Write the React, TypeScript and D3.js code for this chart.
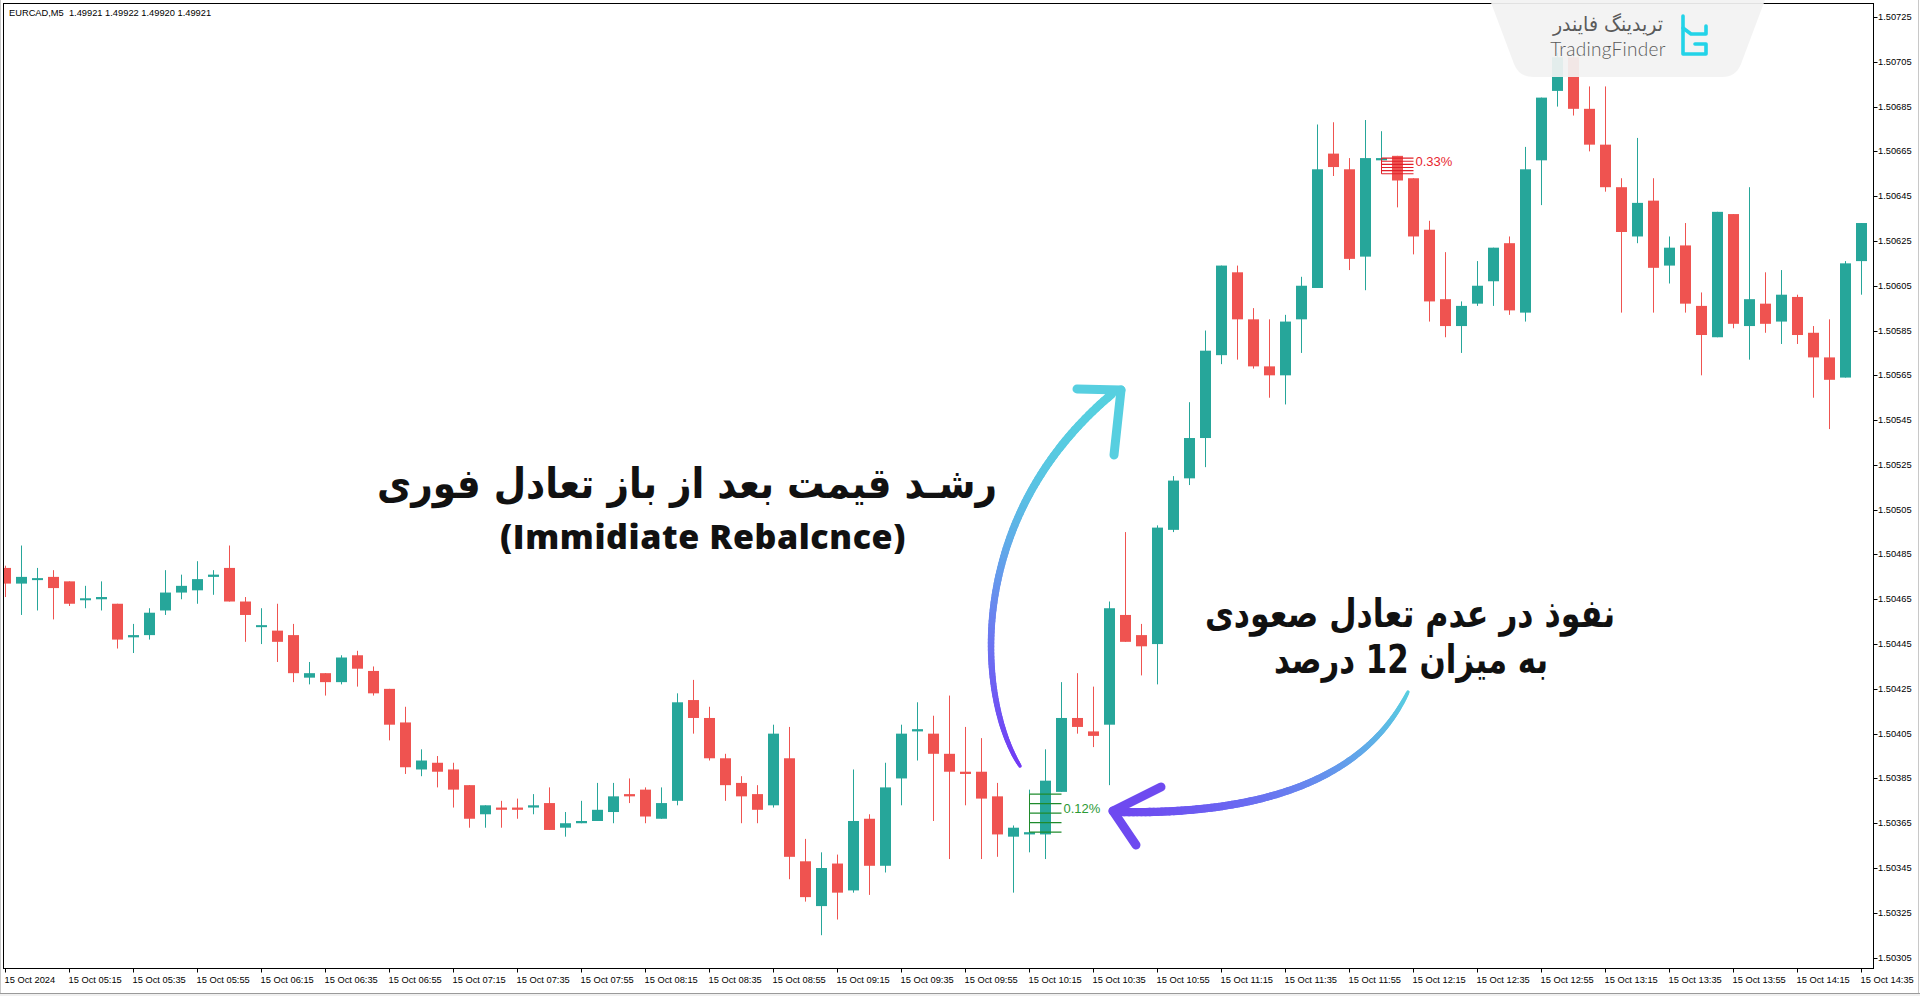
import React from "react";
import * as d3 from "d3";

// ---- data -----------------------------------------------------------------
const symbolHeader = "EURCAD,M5  1.49921 1.49922 1.49920 1.49921";

const timeLabels = [
  "15 Oct 2024", "15 Oct 05:15", "15 Oct 05:35", "15 Oct 05:55", "15 Oct 06:15",
  "15 Oct 06:35", "15 Oct 06:55", "15 Oct 07:15", "15 Oct 07:35", "15 Oct 07:55",
  "15 Oct 08:15", "15 Oct 08:35", "15 Oct 08:55", "15 Oct 09:15", "15 Oct 09:35",
  "15 Oct 09:55", "15 Oct 10:15", "15 Oct 10:35", "15 Oct 10:55", "15 Oct 11:15",
  "15 Oct 11:35", "15 Oct 11:55", "15 Oct 12:15", "15 Oct 12:35", "15 Oct 12:55",
  "15 Oct 13:15", "15 Oct 13:35", "15 Oct 13:55", "15 Oct 14:15", "15 Oct 14:35",
];

const priceTicks = [
  1.50305, 1.50325, 1.50345, 1.50365, 1.50385, 1.50405, 1.50425, 1.50445,
  1.50465, 1.50485, 1.50505, 1.50525, 1.50545, 1.50565, 1.50585, 1.50605,
  1.50625, 1.50645, 1.50665, 1.50685, 1.50705, 1.50725,
];

const opens = [
  1.50479, 1.50472, 1.50474, 1.50475, 1.50473, 1.50465, 1.50465, 1.50463, 1.50448, 1.50449,
  1.50460, 1.50468, 1.50469, 1.50475, 1.50479, 1.50464, 1.50453, 1.50451, 1.50449, 1.50430,
  1.50432, 1.50428, 1.50440, 1.50433, 1.50425, 1.50410, 1.50389, 1.50392, 1.50389, 1.50382,
  1.50369, 1.50372, 1.50372, 1.50372, 1.50374, 1.50363, 1.50365, 1.50366, 1.50370, 1.50378,
  1.50380, 1.50367, 1.50375, 1.50420, 1.50412, 1.50394, 1.50383, 1.50378, 1.50373, 1.50394,
  1.50348, 1.50328, 1.50347, 1.50335, 1.50367, 1.50346, 1.50385, 1.50406, 1.50405, 1.50396,
  1.50388, 1.50388, 1.50377, 1.50359, 1.50360, 1.50360, 1.50379, 1.50412, 1.50406, 1.50409,
  1.50458, 1.50449, 1.50445, 1.50496, 1.50519, 1.50537, 1.50574, 1.50611, 1.50590, 1.50569,
  1.50565, 1.50590, 1.50604, 1.50664, 1.50657, 1.50618, 1.50661, 1.50663, 1.50653, 1.50630,
  1.50599, 1.50587, 1.50597, 1.50607, 1.50624, 1.50593, 1.50661, 1.50692, 1.50707, 1.50684,
  1.50668, 1.50649, 1.50627, 1.50643, 1.50614, 1.50623, 1.50596, 1.50582, 1.50637, 1.50587,
  1.50597, 1.50589, 1.50600, 1.50584, 1.50573, 1.50564, 1.50616,
];

const highs = [
  1.50480, 1.50489, 1.50479, 1.50478, 1.50473, 1.50471, 1.50473, 1.50463, 1.50454, 1.50461,
  1.50478, 1.50476, 1.50482, 1.50478, 1.50489, 1.50466, 1.50461, 1.50463, 1.50454, 1.50437,
  1.50432, 1.50440, 1.50442, 1.50435, 1.50425, 1.50417, 1.50398, 1.50395, 1.50392, 1.50382,
  1.50373, 1.50375, 1.50376, 1.50378, 1.50381, 1.50370, 1.50375, 1.50383, 1.50383, 1.50385,
  1.50381, 1.50381, 1.50423, 1.50429, 1.50417, 1.50396, 1.50386, 1.50382, 1.50409, 1.50408,
  1.50358, 1.50352, 1.50351, 1.50389, 1.50369, 1.50392, 1.50409, 1.50419, 1.50413, 1.50422,
  1.50408, 1.50403, 1.50383, 1.50364, 1.50380, 1.50398, 1.50428, 1.50432, 1.50426, 1.50464,
  1.50495, 1.50454, 1.50498, 1.50520, 1.50553, 1.50585, 1.50614, 1.50614, 1.50595, 1.50590,
  1.50592, 1.50609, 1.50677, 1.50678, 1.50662, 1.50679, 1.50674, 1.50663, 1.50653, 1.50634,
  1.50620, 1.50598, 1.50616, 1.50622, 1.50627, 1.50667, 1.50689, 1.50709, 1.50710, 1.50694,
  1.50694, 1.50653, 1.50671, 1.50653, 1.50627, 1.50633, 1.50602, 1.50638, 1.50637, 1.50649,
  1.50611, 1.50612, 1.50601, 1.50587, 1.50590, 1.50616, 1.50633,
];

const lows = [
  1.50466, 1.50458, 1.50460, 1.50456, 1.50462, 1.50461, 1.50460, 1.50443, 1.50441, 1.50447,
  1.50458, 1.50465, 1.50463, 1.50467, 1.50464, 1.50446, 1.50445, 1.50437, 1.50428, 1.50427,
  1.50422, 1.50427, 1.50426, 1.50422, 1.50402, 1.50387, 1.50386, 1.50381, 1.50372, 1.50363,
  1.50363, 1.50363, 1.50367, 1.50369, 1.50362, 1.50359, 1.50365, 1.50366, 1.50365, 1.50374,
  1.50365, 1.50367, 1.50373, 1.50405, 1.50393, 1.50375, 1.50365, 1.50365, 1.50372, 1.50340,
  1.50330, 1.50315, 1.50322, 1.50334, 1.50333, 1.50343, 1.50373, 1.50393, 1.50366, 1.50349,
  1.50373, 1.50349, 1.50350, 1.50334, 1.50352, 1.50349, 1.50379, 1.50405, 1.50399, 1.50382,
  1.50446, 1.50431, 1.50427, 1.50495, 1.50516, 1.50524, 1.50570, 1.50572, 1.50568, 1.50555,
  1.50552, 1.50575, 1.50604, 1.50654, 1.50612, 1.50603, 1.50661, 1.50640, 1.50619, 1.50589,
  1.50582, 1.50575, 1.50596, 1.50596, 1.50592, 1.50589, 1.50641, 1.50685, 1.50681, 1.50665,
  1.50647, 1.50593, 1.50624, 1.50593, 1.50606, 1.50593, 1.50565, 1.50582, 1.50586, 1.50572,
  1.50584, 1.50579, 1.50579, 1.50555, 1.50541, 1.50564, 1.50601,
];

const closes = [
  1.50472, 1.50475, 1.50474, 1.50470, 1.50463, 1.50465, 1.50466, 1.50447, 1.50449, 1.50459,
  1.50468, 1.50471, 1.50474, 1.50476, 1.50464, 1.50458, 1.50453, 1.50446, 1.50432, 1.50432,
  1.50428, 1.50439, 1.50434, 1.50423, 1.50409, 1.50390, 1.50393, 1.50388, 1.50380, 1.50367,
  1.50373, 1.50371, 1.50371, 1.50373, 1.50362, 1.50365, 1.50366, 1.50371, 1.50377, 1.50377,
  1.50368, 1.50374, 1.50419, 1.50412, 1.50394, 1.50382, 1.50377, 1.50371, 1.50405, 1.50350,
  1.50332, 1.50345, 1.50334, 1.50366, 1.50346, 1.50381, 1.50405, 1.50407, 1.50396, 1.50388,
  1.50387, 1.50376, 1.50360, 1.50363, 1.50361, 1.50384, 1.50412, 1.50408, 1.50404, 1.50461,
  1.50446, 1.50444, 1.50497, 1.50518, 1.50537, 1.50576, 1.50614, 1.50590, 1.50569, 1.50565,
  1.50589, 1.50605, 1.50657, 1.50658, 1.50617, 1.50662, 1.50662, 1.50652, 1.50627, 1.50598,
  1.50587, 1.50596, 1.50605, 1.50622, 1.50594, 1.50657, 1.50689, 1.50707, 1.50684, 1.50668,
  1.50649, 1.50629, 1.50642, 1.50613, 1.50622, 1.50597, 1.50583, 1.50638, 1.50588, 1.50599,
  1.50588, 1.50601, 1.50583, 1.50573, 1.50563, 1.50615, 1.50633,
];

// imbalance zones: bar span, price bounds, number of hatch lines, label
const bullZone = { from: 64, to: 66, top: 1.50378, bottom: 1.50361, lines: 5, label: "0.12%" };
const bearZone = { from: 86, to: 88, top: 1.50662, bottom: 1.50655, lines: 6, label: "0.33%" };

const titleFa = "رشـد قیمت بعد از باز تعادل فوری";
const titleEn = "(Immidiate Rebalcnce)";
const noteFa1 = "نفوذ در عدم تعادل صعودی";
const noteFa2 = "به میزان 12 درصد";
const brandFa = "تریدینگ فایندر";
const brandEn = "TradingFinder";

// ---- layout ---------------------------------------------------------------
const W = 1920;
const H = 996;
const PLOT = { left: 3, top: 3, right: 1873, bottom: 968 };
const UP = "#26a69a";
const DOWN = "#ef5350";
const AXIS_FONT = "'Liberation Sans', Arial, sans-serif";
const FA_FONT = "'DejaVu Sans', sans-serif";

type Pt = [number, number];

function cubic(p0: Pt, p1: Pt, p2: Pt, p3: Pt, t: number): Pt {
  const u = 1 - t;
  return [
    u * u * u * p0[0] + 3 * u * u * t * p1[0] + 3 * u * t * t * p2[0] + t * t * t * p3[0],
    u * u * u * p0[1] + 3 * u * u * t * p1[1] + 3 * u * t * t * p2[1] + t * t * t * p3[1],
  ];
}

// tapered stroke along a cubic curve, coloured along its length
function BrushCurve(props: { pts: [Pt, Pt, Pt, Pt]; w0: number; w1: number; colors: string[] }) {
  const { pts, w0, w1, colors } = props;
  const color = d3.interpolateRgbBasis(colors);
  const n = 110;
  return (
    <g>
      {d3.range(n).map((k) => {
        const t0 = k / n;
        const t1 = (k + 1) / n;
        const a = cubic(pts[0], pts[1], pts[2], pts[3], t0);
        const b = cubic(pts[0], pts[1], pts[2], pts[3], t1);
        const tm = (t0 + t1) / 2;
        return (
          <line
            key={k}
            x1={a[0]}
            y1={a[1]}
            x2={b[0]}
            y2={b[1]}
            stroke={color(tm)}
            strokeWidth={w0 + (w1 - w0) * Math.sqrt(tm)}
            strokeLinecap="round"
          />
        );
      })}
    </g>
  );
}

function ArrowHead(props: { tip: Pt; a: Pt; b: Pt; color: string }) {
  const { tip, a, b, color } = props;
  const line = d3.line();
  return (
    <g fill="none" stroke={color} strokeLinecap="round" strokeLinejoin="round">
      <path d={line([a, tip])!} strokeWidth={9} />
      <path d={line([b, tip])!} strokeWidth={9} />
    </g>
  );
}

function ScaledText(props: {
  x: number;
  y: number;
  sx: number;
  size: number;
  family: string;
  weight?: number;
  fill?: string;
  children: string;
}) {
  const { x, y, sx, size, family, weight = 700, fill = "#111", children } = props;
  return (
    <g transform={`translate(${x},${y}) scale(${sx},1)`}>
      <text
        x={0}
        y={0}
        textAnchor="middle"
        fontFamily={family}
        fontWeight={weight}
        fontSize={size}
        fill={fill}
      >
        {children}
      </text>
    </g>
  );
}

export default function App() {
  const n = opens.length;
  const x = d3.scaleLinear().domain([0, n - 1]).range([5, 1861]);
  const y = d3.scaleLinear().domain([1.50305, 1.50725]).range([957.6, 17]);

  const candles = opens.map((o, i) => {
    const c = closes[i];
    const col = c >= o ? UP : DOWN;
    const cx = Math.round(x(i));
    const top = y(Math.max(o, c));
    const bot = y(Math.min(o, c));
    const h = Math.max(bot - top, 2);
    return (
      <g key={i}>
        <line x1={cx + 0.5} x2={cx + 0.5} y1={y(highs[i])} y2={y(lows[i])} stroke={col} strokeWidth={1} />
        <rect x={cx - 5} y={h === 2 ? (top + bot) / 2 - 1 : top} width={11} height={h} fill={col} />
      </g>
    );
  });

  const zone = (z: typeof bullZone, color: string, labelColor: string) => {
    const x0 = Math.round(x(z.from)) + 0.5;
    const x1 = Math.round(x(z.to)) + 0.5;
    const levels = d3.range(z.lines).map((k) => z.top - ((z.top - z.bottom) * k) / (z.lines - 1));
    return (
      <g>
        <line x1={x0} x2={x0} y1={y(z.top)} y2={y(z.bottom)} stroke={color} strokeWidth={1} />
        {levels.map((p, k) => (
          <line key={k} x1={x0} x2={x1} y1={y(p)} y2={y(p)} stroke={color} strokeWidth={1.2} />
        ))}
        <text
          x={x1 + 2}
          y={y((z.top + z.bottom) / 2) - (z.lines === 6 ? 3 : 4)}
          fontFamily={AXIS_FONT}
          fontSize={13}
          fill={labelColor}
          dominantBaseline="middle"
        >
          {z.label}
        </text>
      </g>
    );
  };

  const logoPanel = "M1490,0 L1765,0 L1741,64 Q1736,77 1722,77 L1533,77 Q1519,77 1514,64 Z";

  return (
    <div style={{ position: "fixed", left: 0, top: 0, width: W, height: H, background: "#fff" }}>
      <svg width={W} height={H} viewBox={`0 0 ${W} ${H}`} style={{ display: "block" }}>
        <defs>
          <clipPath id="plotClip">
            <rect
              x={PLOT.left + 1}
              y={PLOT.top + 1}
              width={PLOT.right - PLOT.left - 1}
              height={PLOT.bottom - PLOT.top - 1}
            />
          </clipPath>
        </defs>
        <rect x={0} y={0} width={W} height={H} fill="#fff" />

        {/* window frame and lower strip */}
        <rect x={0} y={993} width={W} height={3} fill="#f0f0f0" />
        <line x1={0} x2={W} y1={993.5} y2={993.5} stroke="#9a9a9a" />
        <line x1={0.5} x2={0.5} y1={0} y2={993} stroke="#c8c8c8" />
        <line x1={1918.5} x2={1918.5} y1={0} y2={993} stroke="#c8c8c8" />

        {/* plot border */}
        <rect
          x={PLOT.left + 0.5}
          y={PLOT.top + 0.5}
          width={PLOT.right - PLOT.left}
          height={PLOT.bottom - PLOT.top}
          fill="none"
          stroke="#000"
          strokeWidth={1}
        />

        {/* price axis */}
        {priceTicks.map((p) => {
          const ty = Math.round(y(p)) + 0.5;
          return (
            <g key={p}>
              <line x1={PLOT.right + 0.5} x2={PLOT.right + 4.5} y1={ty} y2={ty} stroke="#000" />
              <text
                x={PLOT.right + 5}
                y={ty}
                dominantBaseline="middle"
                fontFamily={AXIS_FONT}
                fontSize={9.3}
                fill="#000"
              >
                {p.toFixed(5)}
              </text>
            </g>
          );
        })}

        {/* time axis */}
        {timeLabels.map((t, k) => {
          const tx = Math.round(x(k * 4)) + 0.5;
          return (
            <g key={t}>
              <line x1={tx} x2={tx} y1={PLOT.bottom + 0.5} y2={PLOT.bottom + 4.5} stroke="#000" />
              <text x={tx - 1} y={983} fontFamily={AXIS_FONT} fontSize={9.3} fill="#000">
                {t}
              </text>
            </g>
          );
        })}

        {/* header */}
        <text x={9} y={16} fontFamily={AXIS_FONT} fontSize={9.3} fill="#000" style={{ whiteSpace: "pre" }}>
          {symbolHeader}
        </text>

        {/* candles and imbalance zones */}
        <g clipPath="url(#plotClip)">
          {candles}
          {zone(bullZone, "#1f8b2c", "#2a9a35")}
          {zone(bearZone, "#e0202a", "#e8262e")}
        </g>

        {/* brand panel */}
        <path d={logoPanel} fill="#f2f2f2" fillOpacity={0.93} />
        <ScaledText x={1608} y={31} sx={0.95} size={20} family={FA_FONT} weight={400} fill="#5a5a5a">
          {brandFa}
        </ScaledText>
        <text
          x={1608}
          y={56}
          textAnchor="middle"
          fontFamily="Lato, 'Open Sans', sans-serif"
          fontWeight={300}
          fontSize={19}
          letterSpacing={0.3}
          fill="#5a5a5a"
        >
          {brandEn}
        </text>
        <g fill="none" stroke="#22d3e8" strokeWidth={3.6} strokeLinejoin="round" strokeLinecap="round">
          <path d="M1683,16 L1683,54 L1706,54 L1706,44 L1695,44" />
          <path d="M1683,28 L1691,34 L1706,34 L1706,26" />
        </g>

        {/* annotations */}
        <ScaledText x={687} y={498} sx={0.89} size={42} family={FA_FONT}>
          {titleFa}
        </ScaledText>
        <text
          x={703}
          y={549}
          textAnchor="middle"
          fontFamily="'Open Sans', 'DejaVu Sans', sans-serif"
          fontWeight={800}
          fontSize={34}
          letterSpacing={0.6}
          fill="#111"
        >
          {titleEn}
        </text>
        <ScaledText x={1410} y={627} sx={0.81} size={39} family={FA_FONT}>
          {noteFa1}
        </ScaledText>
        <ScaledText x={1411} y={673} sx={0.79} size={39} family={FA_FONT}>
          {noteFa2}
        </ScaledText>

        {/* rebound arrow */}
        <BrushCurve
          pts={[[1020, 766], [978, 700], [962, 520], [1112, 394]]}
          w0={3}
          w1={8.5}
          colors={["#7238f5", "#6f55f3", "#6a86f0", "#58c8e2", "#56d0df"]}
        />
        <ArrowHead tip={[1121, 390]} a={[1077, 389]} b={[1114, 455]} color="#57cfe0" />

        {/* penetration arrow */}
        <BrushCurve
          pts={[[1408, 692], [1370, 770], [1280, 815], [1120, 812]]}
          w0={3}
          w1={8.5}
          colors={["#58cfe0", "#62a6ea", "#6a6ff2", "#6e48f0"]}
        />
        <ArrowHead tip={[1113, 811]} a={[1161, 787]} b={[1136, 845]} color="#6e4af0" />
      </svg>
    </div>
  );
}
